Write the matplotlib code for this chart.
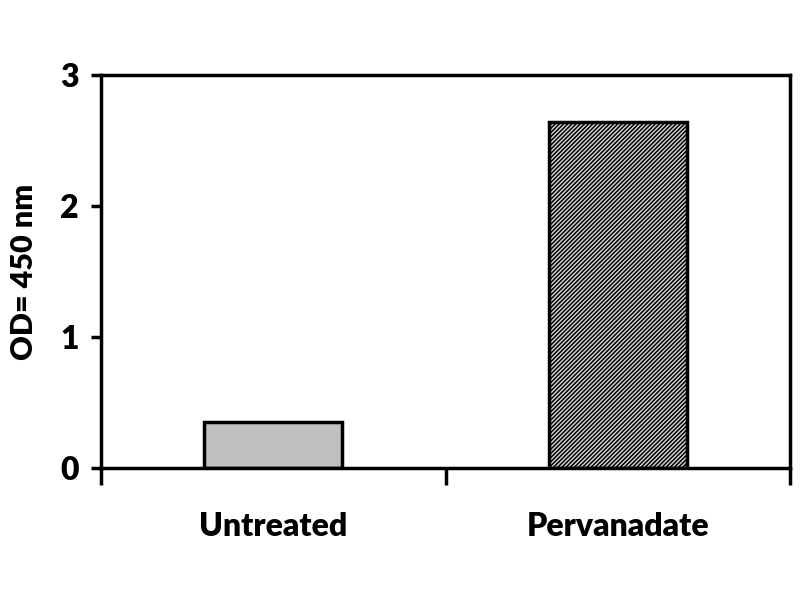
import matplotlib
matplotlib.use("Agg")
import matplotlib.pyplot as plt

# values
categories = ["Untreated", "Pervanadate"]
od_values = [0.35, 2.64]
y_ticks = [0, 1, 2, 3]

plt.rcParams["font.family"] = ["Lato", "DejaVu Sans"]
plt.rcParams["hatch.linewidth"] = 1.1
plt.rcParams["hatch.color"] = "black"

fig = plt.figure(figsize=(8, 6), dpi=100)
ax = fig.add_axes([0.126, 0.22, 0.862, 0.655])

x = range(len(categories))
bars = ax.bar(x, od_values, width=0.4, edgecolor="black", linewidth=2.5)
bars[0].set_facecolor("#c0c0c0")
bars[1].set_facecolor("#d8d8d8")
bars[1].set_hatch("////////")

ax.set_xlim(-0.5, 1.5)
ax.set_ylim(0, 3)
ax.set_yticks(y_ticks)
ax.set_xticks(list(x))
ax.set_xticklabels(categories, fontsize=23, fontweight="heavy")
ax.tick_params(axis="x", length=0, pad=32)
ax.set_xticks([-0.5, 0.5, 1.5], minor=True)
ax.tick_params(axis="x", which="minor", length=12, width=2.5, direction="out")
ax.tick_params(axis="y", length=7, width=2.5, direction="out", labelsize=23, pad=9)
for lbl in ax.get_yticklabels():
    lbl.set_fontweight("heavy")

for side in ax.spines.values():
    side.set_linewidth(2.5)

ax.set_ylabel("OD= 450 nm", fontsize=22, fontweight="heavy", labelpad=16)

fig.savefig("out.png", dpi=100)
